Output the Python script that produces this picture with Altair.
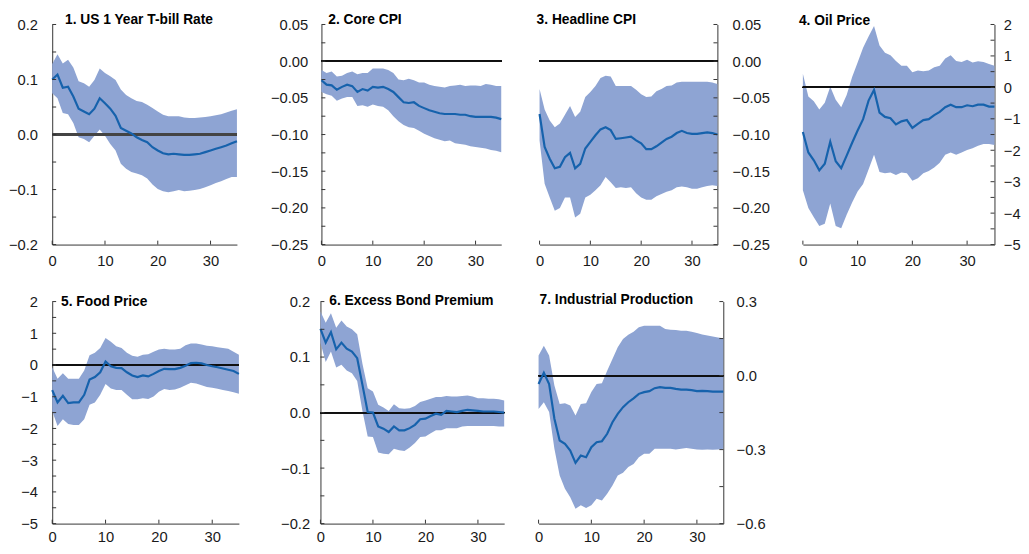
import altair as alt
import pandas as pd

FONT = "Liberation Sans"
BAND = "#8EA4D3"
LINE = "#1662AC"
AXIS = "#333333"
TXT = "#1a1a1a"
LABEL_SIZE = 15

horizon = list(range(36))
x_label_values = [0, 10, 20, 30]

titles = ["1. US 1 Year T-bill Rate", "2. Core CPI", "3. Headline CPI", "4. Oil Price",
          "5. Food Price", "6. Excess Bond Premium", "7. Industrial Production"]

# 1. US 1 Year T-bill Rate
p1_mid = [0.100,0.109,0.085,0.087,0.069,0.047,0.042,0.037,0.047,0.066,0.057,0.047,0.034,0.012,0.007,0.002,-0.005,-0.010,-0.014,-0.023,-0.029,-0.034,-0.036,-0.035,-0.036,-0.037,-0.037,-0.036,-0.035,-0.032,-0.029,-0.026,-0.023,-0.020,-0.016,-0.012]
p1_hi = [0.128,0.146,0.129,0.136,0.122,0.097,0.093,0.087,0.099,0.120,0.112,0.106,0.099,0.082,0.072,0.066,0.061,0.059,0.054,0.048,0.042,0.036,0.033,0.033,0.033,0.031,0.030,0.030,0.031,0.032,0.033,0.035,0.037,0.040,0.043,0.046]
p1_lo = [0.075,0.066,0.039,0.037,0.021,-0.005,-0.008,-0.014,-0.002,0.009,-0.002,-0.017,-0.029,-0.053,-0.062,-0.068,-0.071,-0.074,-0.080,-0.091,-0.099,-0.103,-0.105,-0.103,-0.101,-0.103,-0.102,-0.101,-0.099,-0.096,-0.092,-0.088,-0.085,-0.081,-0.077,-0.077]

# 2. Core CPI
p2_mid = [-0.026,-0.032,-0.033,-0.039,-0.035,-0.032,-0.034,-0.042,-0.038,-0.040,-0.035,-0.036,-0.035,-0.038,-0.042,-0.049,-0.056,-0.057,-0.056,-0.061,-0.064,-0.067,-0.069,-0.071,-0.072,-0.072,-0.072,-0.073,-0.073,-0.075,-0.076,-0.076,-0.076,-0.076,-0.077,-0.079]
p2_hi = [-0.012,-0.016,-0.014,-0.021,-0.020,-0.016,-0.014,-0.018,-0.016,-0.016,-0.010,-0.010,-0.010,-0.012,-0.016,-0.025,-0.026,-0.024,-0.026,-0.029,-0.029,-0.032,-0.034,-0.035,-0.036,-0.034,-0.033,-0.032,-0.034,-0.033,-0.033,-0.034,-0.031,-0.032,-0.034,-0.034]
p2_lo = [-0.042,-0.045,-0.047,-0.054,-0.051,-0.049,-0.049,-0.061,-0.060,-0.062,-0.059,-0.061,-0.062,-0.067,-0.075,-0.082,-0.087,-0.090,-0.091,-0.095,-0.099,-0.102,-0.105,-0.107,-0.109,-0.108,-0.112,-0.113,-0.114,-0.116,-0.117,-0.118,-0.119,-0.121,-0.122,-0.124]

# 3. Headline CPI
p3_mid = [-0.072,-0.117,-0.133,-0.146,-0.144,-0.131,-0.125,-0.146,-0.140,-0.119,-0.110,-0.101,-0.093,-0.090,-0.094,-0.106,-0.105,-0.104,-0.103,-0.108,-0.112,-0.120,-0.120,-0.116,-0.111,-0.106,-0.103,-0.098,-0.095,-0.098,-0.099,-0.099,-0.098,-0.097,-0.098,-0.100]
p3_hi = [-0.038,-0.066,-0.081,-0.090,-0.085,-0.073,-0.061,-0.076,-0.069,-0.049,-0.042,-0.034,-0.023,-0.020,-0.021,-0.034,-0.034,-0.034,-0.034,-0.039,-0.045,-0.049,-0.048,-0.041,-0.038,-0.034,-0.033,-0.029,-0.028,-0.028,-0.028,-0.028,-0.028,-0.028,-0.029,-0.031]
p3_lo = [-0.108,-0.167,-0.186,-0.204,-0.200,-0.186,-0.186,-0.213,-0.208,-0.186,-0.182,-0.176,-0.169,-0.158,-0.165,-0.173,-0.172,-0.173,-0.172,-0.180,-0.186,-0.189,-0.189,-0.184,-0.181,-0.178,-0.176,-0.172,-0.171,-0.172,-0.174,-0.174,-0.172,-0.170,-0.169,-0.170]

# 4. Oil Price
p4_mid = [-1.42,-2.07,-2.32,-2.64,-2.43,-1.73,-2.35,-2.57,-2.17,-1.76,-1.37,-1.01,-0.42,-0.08,-0.80,-0.94,-0.98,-1.18,-1.08,-1.04,-1.29,-1.16,-1.04,-1.01,-0.88,-0.78,-0.63,-0.55,-0.63,-0.63,-0.57,-0.60,-0.55,-0.55,-0.61,-0.61]
p4_hi = [0.43,-0.29,-0.44,-0.70,-0.49,0.02,-0.39,-0.63,-0.24,0.33,0.79,1.26,1.62,1.95,1.33,1.10,1.02,0.84,0.69,0.69,0.48,0.54,0.51,0.54,0.64,0.69,0.92,1.02,0.84,0.81,0.88,0.79,0.83,0.81,0.74,0.69]
p4_lo = [-3.27,-3.84,-4.13,-4.41,-4.34,-3.69,-4.41,-4.48,-4.05,-3.66,-3.31,-3.07,-2.61,-2.14,-2.69,-2.73,-2.71,-2.79,-2.71,-2.73,-2.97,-2.89,-2.73,-2.66,-2.55,-2.40,-2.14,-2.07,-2.14,-2.07,-1.99,-1.94,-1.86,-1.80,-1.80,-1.83]

# 5. Food Price
p5_mid = [-0.79,-1.18,-0.97,-1.20,-1.18,-1.18,-0.94,-0.46,-0.38,-0.23,0.11,-0.04,-0.09,-0.10,-0.23,-0.33,-0.38,-0.33,-0.36,-0.28,-0.19,-0.12,-0.13,-0.13,-0.09,-0.02,0.06,0.07,0.05,0.00,-0.04,-0.07,-0.11,-0.15,-0.19,-0.28]
p5_hi = [-0.07,-0.43,-0.26,-0.43,-0.43,-0.43,-0.17,0.31,0.39,0.54,0.85,0.73,0.59,0.54,0.39,0.29,0.26,0.32,0.34,0.42,0.49,0.51,0.49,0.49,0.51,0.62,0.68,0.68,0.65,0.61,0.59,0.56,0.54,0.51,0.42,0.32]
p5_lo = [-1.45,-1.92,-1.71,-1.86,-1.89,-1.89,-1.71,-1.25,-1.18,-0.94,-0.60,-0.74,-0.79,-0.79,-0.94,-1.08,-1.08,-1.05,-1.07,-0.99,-0.84,-0.76,-0.79,-0.77,-0.72,-0.64,-0.56,-0.58,-0.64,-0.69,-0.72,-0.75,-0.79,-0.82,-0.86,-0.91]

# 6. Excess Bond Premium
p6_mid = [0.151,0.126,0.145,0.114,0.126,0.115,0.110,0.098,0.050,0.001,0.000,-0.025,-0.029,-0.035,-0.025,-0.032,-0.032,-0.028,-0.022,-0.012,-0.011,-0.006,-0.002,-0.004,0.003,0.002,0.001,0.003,0.005,0.004,0.003,0.002,0.002,0.002,0.001,0.000]
p6_hi = [0.182,0.162,0.179,0.153,0.166,0.155,0.150,0.141,0.088,0.044,0.038,0.014,0.009,0.003,0.015,0.008,0.007,0.008,0.012,0.019,0.022,0.025,0.028,0.028,0.030,0.029,0.029,0.030,0.031,0.029,0.026,0.026,0.025,0.025,0.024,0.022]
p6_lo = [0.126,0.091,0.110,0.081,0.086,0.076,0.071,0.057,0.003,-0.043,-0.044,-0.072,-0.074,-0.075,-0.065,-0.068,-0.069,-0.063,-0.055,-0.044,-0.043,-0.037,-0.032,-0.032,-0.028,-0.028,-0.028,-0.025,-0.024,-0.024,-0.024,-0.024,-0.024,-0.024,-0.025,-0.025]

# 7. Industrial Production
p7_mid = [-0.034,0.011,-0.034,-0.175,-0.263,-0.277,-0.304,-0.354,-0.324,-0.331,-0.290,-0.270,-0.266,-0.236,-0.189,-0.155,-0.128,-0.108,-0.092,-0.074,-0.067,-0.063,-0.051,-0.047,-0.050,-0.050,-0.054,-0.057,-0.057,-0.059,-0.063,-0.062,-0.063,-0.065,-0.065,-0.065]
p7_hi = [0.081,0.121,0.081,-0.040,-0.115,-0.112,-0.121,-0.162,-0.115,-0.112,-0.067,-0.034,-0.031,0.020,0.067,0.115,0.148,0.165,0.178,0.196,0.202,0.202,0.202,0.202,0.189,0.186,0.185,0.182,0.182,0.178,0.173,0.167,0.162,0.158,0.154,0.151]
p7_lo = [-0.135,-0.108,-0.148,-0.297,-0.405,-0.459,-0.493,-0.540,-0.526,-0.537,-0.526,-0.499,-0.506,-0.479,-0.445,-0.405,-0.394,-0.371,-0.358,-0.331,-0.317,-0.317,-0.297,-0.297,-0.297,-0.297,-0.300,-0.297,-0.294,-0.297,-0.300,-0.301,-0.300,-0.301,-0.300,-0.297]

series = [(p1_mid, p1_lo, p1_hi), (p2_mid, p2_lo, p2_hi), (p3_mid, p3_lo, p3_hi),
          (p4_mid, p4_lo, p4_hi), (p5_mid, p5_lo, p5_hi), (p6_mid, p6_lo, p6_hi),
          (p7_mid, p7_lo, p7_hi)]

y_domains = [[-0.2, 0.2], [-0.25, 0.05], [-0.25, 0.05], [-5, 2], [-5, 2], [-0.2, 0.2], [-0.6, 0.3]]
y_label_values = [
    [-0.2, -0.1, 0, 0.1, 0.2],
    [-0.25, -0.2, -0.15, -0.1, -0.05, 0, 0.05],
    [-0.25, -0.2, -0.15, -0.1, -0.05, 0, 0.05],
    [-5, -4, -3, -2, -1, 0, 1, 2],
    [-5, -4, -3, -2, -1, 0, 1, 2],
    [-0.2, -0.1, 0, 0.1, 0.2],
    [-0.6, -0.3, 0, 0.3],
]
y_tick_values = [
    [-0.2, -0.15, -0.1, -0.05, 0, 0.05, 0.1, 0.15, 0.2],
    [-0.25, -0.225, -0.2, -0.175, -0.15, -0.125, -0.1, -0.075, -0.05, -0.025, 0, 0.025, 0.05],
    [-0.25, -0.225, -0.2, -0.175, -0.15, -0.125, -0.1, -0.075, -0.05, -0.025, 0, 0.025, 0.05],
    [-5, -4.5, -4, -3.5, -3, -2.5, -2, -1.5, -1, -0.5, 0, 0.5, 1, 1.5, 2],
    [-5, -4.5, -4, -3.5, -3, -2.5, -2, -1.5, -1, -0.5, 0, 0.5, 1, 1.5, 2],
    [-0.2, -0.15, -0.1, -0.05, 0, 0.05, 0.1, 0.15, 0.2],
    [-0.6, -0.45, -0.3, -0.15, 0, 0.15, 0.3],
]
y_formats = [".1f", ".2f", ".2f", "d", "d", ".1f", ".1f"]

# layout / style per panel (pixels)
styles = [
    dict(side="left", W=188, H=224, ext=44, lpad=15, xpad=9, tx=13, ty=-4, zc="#444444", zw=1.6),
    dict(side="left", W=183, H=224, ext=51, lpad=14, xpad=9, tx=7, ty=-4, zc="#111111", zw=1),
    dict(side="right", W=181, H=224, ext=51, lpad=15, xpad=9, tx=-3, ty=-4, zc="#111111", zw=1),
    dict(side="right", W=195, H=224, ext=0, lpad=9, xpad=9, tx=-4, ty=-3, zc="#111111", zw=1),
    dict(side="left", W=190, H=226, ext=40, lpad=15, xpad=6, tx=9, ty=1, zc="#111111", zw=1),
    dict(side="left", W=187, H=226, ext=53, lpad=11, xpad=6, tx=9, ty=0, zc="#111111", zw=1),
    dict(side="right", W=188, H=226, ext=0, lpad=13, xpad=6, tx=1, ty=-2, zc="#111111", zw=1),
]
TICK_LEN = 4


def panel(i):
    mid, lo, hi = series[i]
    st = styles[i]
    W, H = st["W"], st["H"]
    df = pd.DataFrame({"h": horizon, "mid": mid, "lo": lo, "hi": hi})
    base = alt.Chart(df)
    xs = alt.Scale(domain=[0, 35], nice=False, zero=False)
    ys = alt.Scale(domain=y_domains[i], nice=False, zero=False)

    main_x = alt.Axis(orient="bottom", values=x_label_values, ticks=False, tickSize=0,
                      labelPadding=st["xpad"], domain=True, grid=False, title=None,
                      minExtent=0, labelFlush=False, labelOverlap=False, labelFont=FONT,
                      labelFontSize=LABEL_SIZE, labelColor=TXT, domainColor=AXIS,
                      domainWidth=1)
    main_y = alt.Axis(orient=st["side"], values=y_label_values[i], format=y_formats[i],
                      ticks=False, tickSize=0, labelPadding=st["lpad"], domain=True,
                      grid=False, title=None, minExtent=st["ext"], labelFlush=False,
                      labelOverlap=False, labelFont=FONT, labelFontSize=LABEL_SIZE,
                      labelColor=TXT, domainColor=AXIS, domainWidth=1)

    area = base.mark_area(color=BAND, opacity=1).encode(
        x=alt.X("h:Q", scale=xs, axis=main_x),
        y=alt.Y("lo:Q", scale=ys, axis=main_y),
        y2="hi:Q",
    )
    zero = base.mark_rule(color=st["zc"], strokeWidth=st["zw"]).encode(
        y=alt.YDatum(0, axis=None)
    )
    line = base.mark_line(color=LINE, strokeWidth=2.2).encode(
        x=alt.X("h:Q", axis=None),
        y=alt.Y("mid:Q", axis=None),
    )
    # inward tick marks
    if st["side"] == "left":
        tx1, tx2 = 0, TICK_LEN
    else:
        tx1, tx2 = W - TICK_LEN, W
    yticks = alt.Chart(pd.DataFrame({"v": y_tick_values[i]})).mark_rule(
        color=AXIS, strokeWidth=1
    ).encode(y=alt.Y("v:Q", axis=None), x=alt.value(tx1), x2=alt.value(tx2))
    xticks = alt.Chart(pd.DataFrame({"v": x_label_values})).mark_rule(
        color=AXIS, strokeWidth=1
    ).encode(x=alt.X("v:Q", axis=None), y=alt.value(H - TICK_LEN), y2=alt.value(H))
    label = alt.Chart(pd.DataFrame({"t": [titles[i]]})).mark_text(
        align="left", baseline="middle", font=FONT, fontSize=14, fontWeight="bold",
        color="#000000",
    ).encode(
        x=alt.value(st["tx"]), y=alt.value(st["ty"]), text="t:N"
    )
    return alt.layer(area, zero, line, yticks, xticks, label).resolve_axis(
        x="independent", y="independent"
    ).properties(width=W, height=H)


top = alt.hconcat(panel(0), panel(1), panel(2), panel(3), spacing=29)
bottom = alt.hconcat(panel(4), panel(5), panel(6), spacing=25)

chart = alt.vconcat(top, bottom, spacing=25).properties(
    padding={"left": 0, "top": 1, "right": 0, "bottom": -3}
).configure_view(stroke=None)

chart.save("out.html", embed_options={"renderer": "svg", "actions": False})
